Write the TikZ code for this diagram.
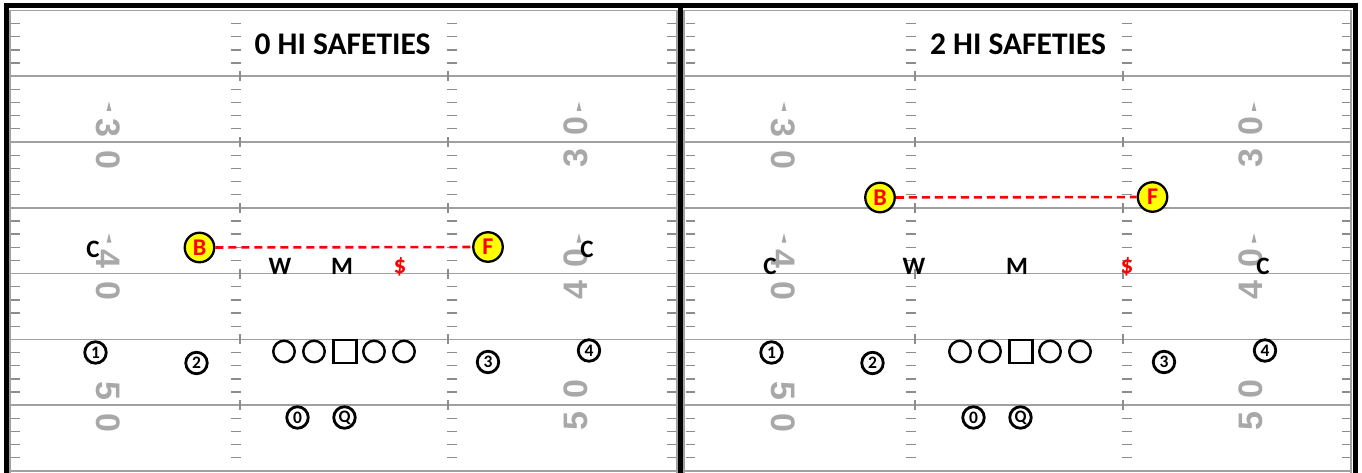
\documentclass[tikz,border=0pt]{standalone}
\usepackage{fontspec}
\setmainfont{Carlito}
\newfontfamily\numfont{Liberation Sans}
\definecolor{linegray}{HTML}{A0A0A0}
\definecolor{tickgray}{HTML}{8C8C8C}
\definecolor{numgray}{HTML}{A8A8A8}
\definecolor{dred}{HTML}{FF0000}
\definecolor{byellow}{HTML}{FFFF00}
\begin{document}
\begin{tikzpicture}[x=1pt,y=-1pt,
  yardline/.style={draw=linegray,line width=1.7pt},
  sideline/.style={draw=linegray,line width=1.4pt},
  tickmark/.style={draw=tickgray,line width=1.3pt},
  yardnum/.style={text=numgray,font=\numfont\bfseries\fontsize{34}{34}\selectfont,inner sep=0pt},
  arrowtri/.style={fill=numgray,draw=none},
  frameline/.style={draw=black,line width=5pt},
  title/.style={font=\bfseries\fontsize{31.5}{31.5}\selectfont,inner sep=0pt},
  defl/.style={font=\bfseries\fontsize{25}{25}\selectfont,inner sep=0pt},
  safety/.style={circle,draw=black,fill=byellow,line width=2.3pt,minimum size=29.5pt,inner sep=0pt,text=dred,font=\bfseries\fontsize{24}{24}\selectfont},
  offnum/.style={circle,draw=black,line width=2.8pt,minimum size=21.5pt,inner sep=0pt,font=\bfseries\fontsize{17.5}{17.5}\selectfont},
  lineman/.style={circle,draw=black,line width=2.4pt,minimum size=21.5pt,inner sep=0pt},
  center/.style={rectangle,draw=black,line width=2.4pt,minimum size=23pt,inner sep=0pt},
  coverline/.style={draw=dred,line width=2.6pt,dash pattern=on 8pt off 5pt}]
\useasboundingbox (0,0) rectangle (1362,473);
\fill[white] (0,0) rectangle (1362,473);
% field markings for both panels
\foreach \p in {0,675}{
  \begin{scope}[xshift=\p pt]
    \foreach \n in {5,10,...,30}{
      \pgfmathsetmacro{\yy}{10.4+13.16*\n}
      \draw[yardline] (10,\yy) -- (677,\yy);
      \draw[tickmark] (240,\yy-5) -- (240,\yy+5);
      \draw[tickmark] (448,\yy-5) -- (448,\yy+5);
    }
    \foreach \n in {1,...,34}{
      \pgfmathtruncatemacro{\md}{mod(\n,5)}
      \ifnum\md>0
        \pgfmathsetmacro{\yy}{10.4+13.16*\n}
        \draw[tickmark] (11,\yy) -- (20,\yy);
        \draw[tickmark] (667,\yy) -- (676,\yy);
        \draw[tickmark] (231,\yy) -- (241,\yy);
        \draw[tickmark] (447,\yy) -- (457,\yy);
      \fi
    }
    \foreach \n/\d/\tri in {10/3/1,20/4/1,30/5/0}{
      \pgfmathsetmacro{\yy}{10.4+13.16*\n}
      \node[yardnum,rotate=-90] at (108.5,\yy-14.5) {\d};
      \node[yardnum,rotate=-90] at (108.5,\yy+17.5) {0};
      \node[yardnum,rotate=90] at (576,\yy-16) {0};
      \node[yardnum,rotate=90] at (576,\yy+16) {\d};
      \ifnum\tri=1
        \fill[arrowtri] (106.6,\yy-31) -- (111.4,\yy-31) -- (109,\yy-40.5) -- cycle;
        \fill[arrowtri] (576.6,\yy-31) -- (581.4,\yy-31) -- (579,\yy-40.5) -- cycle;
      \fi
    }
  \end{scope}
}
% panel borders
\draw[sideline] (10,10.4) -- (677,10.4);
\draw[sideline] (684,10.4) -- (1351,10.4);
\draw[sideline] (10,471) -- (677,471);
\draw[sideline] (684,471) -- (1351,471);
\draw[sideline] (10,10.4) -- (10,473);
\draw[sideline] (677,10.4) -- (677,473);
\draw[sideline] (684,10.4) -- (684,473);
\draw[sideline] (1351,10.4) -- (1351,473);
\draw[frameline] (3.5,6) -- (1357.5,6);
\draw[frameline] (6,3.5) -- (6,473);
\draw[frameline] (680.5,3.5) -- (680.5,473);
\draw[frameline] (1355,3.5) -- (1355,473);
% titles
\node[title] (t1) at (342.5,44) {0 HI SAFETIES};
\node[title] (t2) at (1018,44) {2 HI SAFETIES};
% left panel defense
\node[defl] (lc1) at (93,249) {C};
\node[safety] (lb) at (199.5,247.5) {B};
\node[safety] (lf) at (488,247) {F};
\node[defl] (lw) at (280,266) {W};
\node[defl] (lm) at (342,266) {M};
\node[defl,text=dred] (ls) at (400,267) {\$};
\node[defl] (lc2) at (587,249) {C};
\draw[coverline] (lb) -- (lf);
% right panel defense
\node[safety] (rb) at (880,197.5) {B};
\node[safety] (rf) at (1152.5,197) {F};
\node[defl] (rc1) at (770,266) {C};
\node[defl] (rw) at (914,266) {W};
\node[defl] (rm) at (1017,266) {M};
\node[defl,text=dred] (rs) at (1127,267) {\$};
\node[defl] (rc2) at (1263,266) {C};
\draw[coverline] (rb) -- (rf);
% offense, both panels
\foreach \p/\s in {0/l,676/r}{
  \begin{scope}[xshift=\p pt]
    \node[offnum] (\s o1) at (95.5,352.5) {1};
    \node[offnum] (\s o2) at (196.5,363) {2};
    \node[offnum] (\s o3) at (488,362) {3};
    \node[offnum] (\s o4) at (589,350.5) {4};
    \node[lineman] (\s lt) at (284,351.5) {};
    \node[lineman] (\s lg) at (314,351.5) {};
    \node[center] (\s c) at (345,351.5) {};
    \node[lineman] (\s rg) at (374,351.5) {};
    \node[lineman] (\s rt) at (404,351.5) {};
    \node[offnum] (\s o0) at (297.5,417.5) {0};
    \node[offnum] (\s q) at (344.5,417.5) {Q};
  \end{scope}
}
\end{tikzpicture}
\end{document}
